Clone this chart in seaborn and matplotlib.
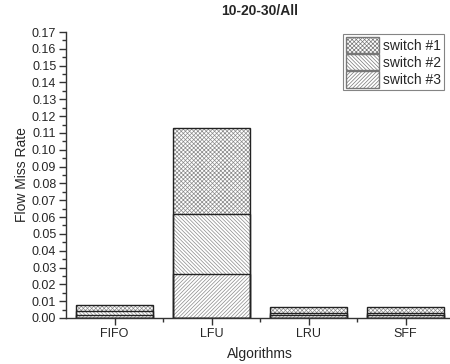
import matplotlib
matplotlib.use("Agg")
import matplotlib.pyplot as plt
import seaborn as sns
import pandas as pd
import numpy as np
from matplotlib.patches import Patch
from matplotlib.ticker import MultipleLocator, FormatStrFormatter

categories = ["FIFO", "LFU", "LRU", "SFF"]
switch1 = [0.0037, 0.0514, 0.0036, 0.0037]
switch2 = [0.0020, 0.0356, 0.0015, 0.0015]
switch3 = [0.0020, 0.0260, 0.0015, 0.0015]
series_names = ["switch #1", "switch #2", "switch #3"]
hatches = ["xxxxxxxx", "\\\\\\\\\\\\\\\\\\", "/////////"]

sns.set_style("white")
plt.rcParams["font.family"] = ["Liberation Sans", "DejaVu Sans"]
plt.rcParams["hatch.linewidth"] = 0.5

fig = plt.figure(figsize=(4.5, 3.64), dpi=100)
ax = fig.add_axes([66/450, 1-318/364, (454-66)/450, (318-32)/364])

s3 = np.array(switch3)
s23 = s3 + np.array(switch2)
s123 = s23 + np.array(switch1)
layers = [s123, s23, s3]

for vals, h in zip(layers, hatches):
    df = pd.DataFrame({"cat": categories, "val": vals})
    sns.barplot(data=df, x="cat", y="val", ax=ax, color="white", width=0.8,
                edgecolor="#8a8a8a", linewidth=0, hatch=h, saturation=1)
# outlines
for vals in layers:
    df = pd.DataFrame({"cat": categories, "val": vals})
    sns.barplot(data=df, x="cat", y="val", ax=ax, fill=False, width=0.8,
                edgecolor="#222222", linewidth=1.0)

ax.set_xlim(-0.5, 3.5)
ax.set_ylim(0, 0.17)
ax.yaxis.set_major_locator(MultipleLocator(0.01))
ax.yaxis.set_minor_locator(MultipleLocator(0.005))
ax.yaxis.set_major_formatter(FormatStrFormatter("%.2f"))
ax.set_xticks(range(4))
ax.set_xticklabels(categories)
ax.set_xticks([0.5, 1.5, 2.5], minor=True)
ax.tick_params(axis="both", which="major", direction="out", length=5, width=1,
               labelsize=9, color="#333333", left=True, bottom=True, pad=2)
ax.tick_params(axis="both", which="minor", direction="out", length=3, width=1,
               color="#333333", left=True, bottom=True)
for s in ["top", "right"]:
    ax.spines[s].set_visible(False)
for s in ["left", "bottom"]:
    ax.spines[s].set_color("#333333")
    ax.spines[s].set_linewidth(1)

ax.set_xlabel("Algorithms", fontsize=10, labelpad=5)
ax.set_ylabel("Flow Miss Rate", fontsize=10, labelpad=2)
ax.set_title("10-20-30/All", fontsize=10, fontweight="bold", pad=12)

handles = [Patch(facecolor="white", edgecolor="#777777", hatch=h, linewidth=1)
           for h in hatches]
leg = ax.legend(handles, series_names, loc="upper left",
                bbox_to_anchor=(343/450, 1-34/364), bbox_transform=fig.transFigure,
                fontsize=10, frameon=True, fancybox=False, borderpad=0.2,
                handlelength=2.4, handleheight=1.45, handletextpad=0.3,
                labelspacing=0.05, borderaxespad=0)
leg.get_frame().set_edgecolor("#666666")
leg.get_frame().set_linewidth(0.8)

fig.savefig("out.png", dpi=100)
